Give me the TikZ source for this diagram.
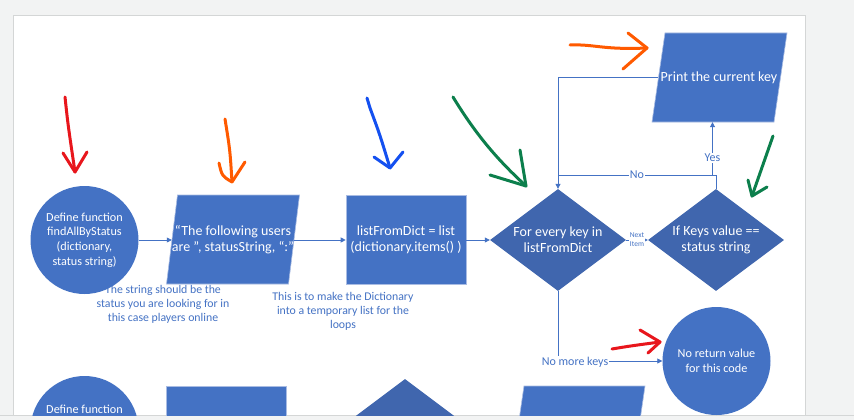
\documentclass[tikz,border=0pt]{standalone}
\usepackage{fontspec}
\setmainfont{Carlito}
\usetikzlibrary{shapes.geometric,arrows.meta}
\definecolor{obl}{HTML}{4472C4}
\definecolor{dbl}{HTML}{4066AE}
\definecolor{edgec}{HTML}{A9BCE3}
\definecolor{pagebg}{HTML}{F2F3F3}
\definecolor{pageedge}{HTML}{D4D6D6}
\definecolor{hred}{HTML}{E8161C}
\definecolor{horange}{HTML}{FF5A00}
\definecolor{hblue}{HTML}{1450F0}
\definecolor{hgreen}{HTML}{0C7F4C}
\begin{document}
\begin{tikzpicture}[x=1pt,y=-1pt,
  circ/.style={circle,fill=obl,minimum size=108pt,inner sep=0pt,text=white,align=center,font=\fontsize{12.2}{14.7}\selectfont},
  rectbox/.style={rectangle,fill=obl,draw=edgec,line width=0.6pt,minimum width=120pt,minimum height=89pt,inner sep=0pt,text=white,align=center,font=\fontsize{14}{16}\selectfont},
  paratext/.style={rectangle,minimum width=122pt,minimum height=89pt,inner sep=0pt,text=white,align=center,font=\fontsize{14}{16}\selectfont},
  parafill/.style={fill=obl,draw=edgec,line width=0.6pt},
  dia/.style={diamond,aspect=1.333,fill=dbl,minimum width=136pt,minimum height=102pt,inner sep=0pt,text=white,align=center,font=\fontsize{14}{16}\selectfont},
  note/.style={text=obl,align=center,font=\fontsize{11.8}{14}\selectfont},
  lbl/.style={text=obl,fill=white,inner sep=0.8pt,font=\fontsize{12}{13}\selectfont},
  conn/.style={draw=obl,line width=0.8pt,-{Triangle[length=5pt,width=5pt]}},
  line/.style={draw=obl,line width=0.8pt},
  hand/.style={line width=3pt,line cap=round,line join=round}
]
\useasboundingbox (0,0) rectangle (854,420);
\fill[pagebg] (0,0) rectangle (854,420);
\fill[white] (13.5,15) rectangle (805,415);
\draw[pageedge,line width=0.8pt] (13.5,415) -- (13.5,15) -- (805,15) -- (805,415);
\draw[pageedge,line width=1pt] (0,415.5) -- (854,415.5);
\begin{scope}
\clip (13.5,15) rectangle (805,415);
% notes (drawn first, under the shapes)
\node[note] (n1) at (163,304) {The string should be the\\status you are looking for in\\this case players online};
\node[note] (n2) at (343,311) {This is to make the Dictionary\\into a temporary list for the\\loops};
% top row
\node[circ] (c1) at (84.5,240) {Define function\\findAllByStatus\\(dictionary,\\status string)};
\fill[parafill] (177.5,195) -- (299.5,195) -- (288.5,284) -- (166.5,284) -- cycle;
\node[paratext] (p1) at (233,240) {“The following users\\are ”, statusString, “:”};
\node[rectbox] (r1) at (406,240) {listFromDict = list\\(dictionary.items() )};
\node[dia] (d1) at (558,240) {For every key in\\listFromDict};
\node[dia] (d2) at (716,240) {If Keys value ==\\status string};
\fill[parafill] (665,33) -- (787,33) -- (774,122) -- (652,122) -- cycle;
\node[paratext] (p2) at (719,77.5) {Print the current key};
\node[circ] (c3) at (716.5,361) {No return value\\for this code};
% bottom row (cut by the page edge)
\node[circ] (c2) at (84.5,430) {};
\node[text=white,font=\fontsize{12.2}{14.7}\selectfont] (c2t) at (84.5,409) {Define function};
\node[rectbox] (r2) at (226,430.5) {};
\node[dia] (d3) at (405,430) {};
\fill[parafill] (524,386) -- (645,386) -- (632,475) -- (511,475) -- cycle;
% connectors
\draw[conn] (c1.east) -- (p1.west);
\draw[conn] (p1.east) -- (r1.west);
\draw[conn] (r1.east) -- (d1.west);
\draw[conn] (d1.east) -- (d2.west) node[midway,text=obl,fill=white,inner sep=0.5pt,align=center,font=\fontsize{7.5}{9}\selectfont] {Next\\Item};
\coordinate (jn) at (716,175);
\draw[conn] (d2.north) -- (jn) -- (jn -| d1.north) node[pos=0.5,lbl] {No} -- (d1.north);
\draw[conn] ([xshift=-6.5pt]p2.south |- jn) -- ([xshift=-6.5pt]p2.south) node[pos=0.32,lbl] {Yes};
\draw[line] (p2.west) -| (jn -| d1.north);
\draw[conn] (d1.south) |- (c3.west);
\node[lbl] (nmk) at (575,362) {No more keys};
% hand-drawn arrows
\draw[hand,hred] (65,97) .. controls (68,125) .. (75,172);
\draw[hand,hred] (63,153) -- (75,172) -- (87,152);
\draw[hand,horange] (225,119) .. controls (230,150) .. (232,182);
\draw[hand,horange] (219,163) .. controls (222,176) .. (232,182) -- (245,162);
\draw[hand,hblue] (367,98) -- (370,108) .. controls (380,135) .. (390,168);
\draw[hand,hblue] (374,157) -- (390,168) -- (403,152);
\draw[hand,hgreen] (453,97) .. controls (478,138) and (500,162) .. (526,186);
\draw[hand,hgreen] (520,150) -- (526,186) -- (490,175);
\draw[hand,hgreen] (773,136) -- (752,196);
\draw[hand,hgreen] (748,180) -- (752,196) -- (767,187);
\draw[hand,horange] (570,45) .. controls (595,44) and (602,50) .. (647,48);
\draw[hand,horange] (628,33) -- (647,48) -- (623,69);
\draw[hand,hred] (612,349) .. controls (630,346) .. (660,342);
\draw[hand,hred] (640,330) -- (660,342) -- (648,353);
\end{scope}
\end{tikzpicture}
\end{document}
